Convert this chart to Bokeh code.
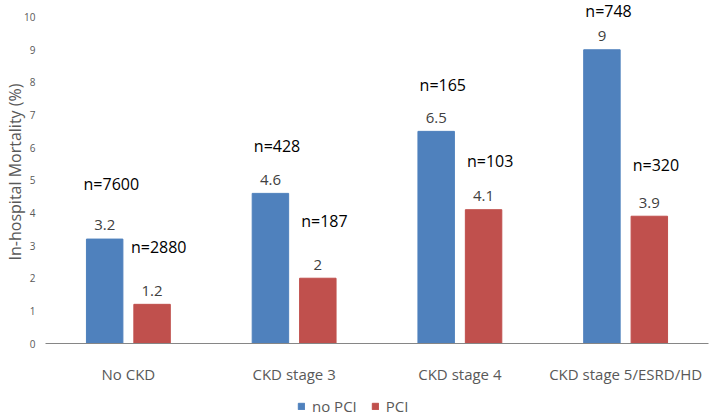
from bokeh.plotting import figure
from bokeh.layouts import column
from bokeh.models import ColumnDataSource, FactorRange, Range1d, Legend, LegendItem, FixedTicker
from bokeh.transform import dodge
from bokeh.core.properties import value
from bokeh.embed import file_html
from bokeh.resources import INLINE

categories = ["No CKD", "CKD stage 3", "CKD stage 4", "CKD stage 5/ESRD/HD"]
no_pci = [3.2, 4.6, 6.5, 9.0]
pci = [1.2, 2.0, 4.1, 3.9]
no_pci_text = ["3.2", "4.6", "6.5", "9"]
pci_text = ["1.2", "2", "4.1", "3.9"]
no_pci_n = ["n=7600", "n=428", "n=165", "n=748"]
pci_n = ["n=2880", "n=187", "n=103", "n=320"]
y_ticks = [0, 1, 2, 3, 4, 5, 6, 7, 8, 9, 10]
series_names = ["no PCI", "PCI"]

# annotation layout (heights of the n= labels above each bar, in axis units)
no_pci_n_gap = [1.70, 1.46, 1.43, 1.19]
pci_n_gap = [1.76, 1.76, 1.49, 1.58]

BLUE = "#4F81BD"
RED = "#C0504D"
FONT = "Open Sans"

src = ColumnDataSource(dict(
    cat=categories,
    no_pci=no_pci,
    pci=pci,
    no_pci_text=no_pci_text,
    pci_text=pci_text,
    no_pci_n=no_pci_n,
    pci_n=pci_n,
    no_pci_val_y=[v + 0.42 for v in no_pci],
    pci_val_y=[v + 0.42 for v in pci],
    no_pci_n_y=[v + g for v, g in zip(no_pci, no_pci_n_gap)],
    pci_n_y=[v + g for v, g in zip(pci, pci_n_gap)],
))

p = figure(
    x_range=FactorRange(*categories, range_padding=0),
    y_range=Range1d(0, 10.51),
    width=709, height=386,
    output_backend="svg", toolbar_location=None,
    min_border_left=45, min_border_right=1, min_border_top=0, min_border_bottom=34,
)

off = 0.143
bw = 0.22
p.vbar(x=dodge("cat", -off, range=p.x_range), top="no_pci", width=bw, source=src,
       fill_color=BLUE, line_color=BLUE)
p.vbar(x=dodge("cat", off, range=p.x_range), top="pci", width=bw, source=src,
       fill_color=RED, line_color=RED)

p.text(x=dodge("cat", -off, range=p.x_range), y="no_pci_val_y", text="no_pci_text", source=src,
       text_font=value(FONT), text_font_size="15px", text_color="#404040",
       text_align="center", text_baseline="middle")
p.text(x=dodge("cat", off, range=p.x_range), y="pci_val_y", text="pci_text", source=src,
       text_font=value(FONT), text_font_size="15px", text_color="#404040",
       text_align="center", text_baseline="middle")
p.text(x=dodge("cat", -off + 0.04, range=p.x_range), y="no_pci_n_y", text="no_pci_n", source=src,
       text_font=value(FONT), text_font_size="16px", text_color="#000000",
       text_align="center", text_baseline="middle")
p.text(x=dodge("cat", off + 0.04, range=p.x_range), y="pci_n_y", text="pci_n", source=src,
       text_font=value(FONT), text_font_size="16px", text_color="#000000",
       text_align="center", text_baseline="middle")

p.xgrid.visible = False
p.ygrid.visible = False
p.outline_line_color = None

xa = p.xaxis[0]
xa.axis_line_color = "#868686"
xa.axis_line_width = 1
xa.major_tick_line_color = None
xa.minor_tick_line_color = None
xa.major_label_text_font = FONT
xa.major_label_text_font_size = "15px"
xa.major_label_text_color = "#595959"
xa.major_label_standoff = 14

ya = p.yaxis[0]
ya.ticker = FixedTicker(ticks=y_ticks)
ya.axis_line_color = None
ya.major_tick_line_color = None
ya.minor_tick_line_color = None
ya.major_label_text_font = FONT
ya.major_label_text_font_size = "10px"
ya.major_label_text_color = "#595959"
ya.major_label_standoff = 4
ya.axis_label = "In-hospital Mortality (%)"
ya.axis_label_text_font = FONT
ya.axis_label_text_font_size = "16px"
ya.axis_label_text_font_style = "normal"
ya.axis_label_text_color = "#595959"
ya.axis_label_standoff = -5

# legend strip below the chart (no axes)
p2 = figure(width=709, height=34, x_range=Range1d(0, 700), y_range=Range1d(0, 34),
            x_axis_location=None, y_axis_location=None,
            output_backend="svg", toolbar_location=None,
            min_border_left=0, min_border_right=0, min_border_top=0, min_border_bottom=0)
p2.grid.visible = False
p2.outline_line_color = None
# legend-swatch renderers: one point each, placed far outside the visible range
d1 = p2.vbar(x=[-1000], top=[-1000], bottom=[-1001], width=1, fill_color=BLUE, line_color=BLUE)
d2 = p2.vbar(x=[-1000], top=[-1000], bottom=[-1001], width=1, fill_color=RED, line_color=RED)
legend = Legend(items=[LegendItem(label=series_names[0], renderers=[d1]),
                       LegendItem(label=series_names[1], renderers=[d2])],
                orientation="horizontal", location=(252, 4),
                border_line_color=None, background_fill_alpha=0,
                label_text_font=FONT, label_text_font_size="15px", label_text_color="#595959",
                glyph_width=8, glyph_height=8, label_standoff=7, spacing=14,
                padding=0, margin=0, label_height=16)
p2.add_layout(legend, "center")

open("out.html", "w").write(file_html(column(p, p2, spacing=0), INLINE))
